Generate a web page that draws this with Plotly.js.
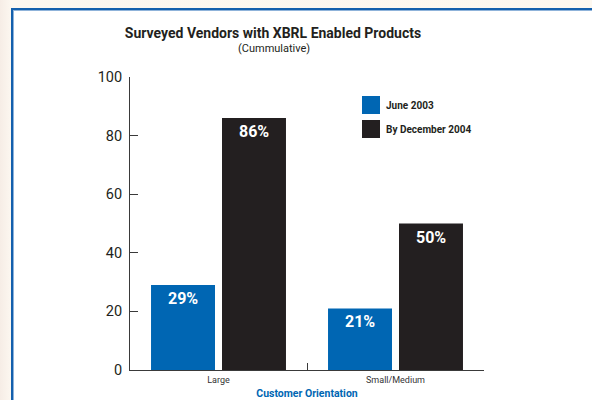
<!DOCTYPE html>
<html>
<head>
<meta charset="utf-8">
<script src="https://cdn.plot.ly/plotly-3.0.1.min.js"></script>
<style>
  html, body { margin:0; padding:0; width:592px; height:400px; overflow:hidden;
    background: linear-gradient(90deg, #f6ede6 0px, #fcf7f0 11px, #fdf8f0 100%); }
  #frame { position:absolute; left:11px; top:8px; width:581px; height:392px; background:#ffffff;
    border-left:2px solid #1460ad; border-top:2px solid #1460ad; box-sizing:border-box;
    box-shadow: inset 1px 1px 0 #8fb3da; }
  #chart { position:absolute; left:0; top:0; width:592px; height:400px; }
</style>
</head>
<body>
<div id="frame"></div>
<div id="chart"></div>
<script>
const categories = ["Large", "Small/Medium"];
const seriesNames = ["June 2003", "By December 2004"];
const june2003 = [29, 21];
const dec2004 = [86, 50];
const yTicks = [0, 20, 40, 60, 80, 100];

const colors = ["#0066b3", "#231f20"];
const FONT = 'Roboto, "Liberation Sans", Arial, sans-serif';
const STRETCH = "condensed";

const traces = [june2003, dec2004].map((vals, i) => ({
  type: "bar",
  name: seriesNames[i],
  x: categories,
  y: vals,
  marker: { color: colors[i], line: { width: 0 } },
  showlegend: false,
  hoverinfo: "skip"
}));

const annotations = [];
[june2003, dec2004].forEach((vals, i) => {
  vals.forEach((v, j) => {
    annotations.push({
      x: categories[j], y: v, xref: "x", yref: "y",
      text: v + "%", showarrow: false,
      xshift: i === 0 ? -35.5 : 35.5, yshift: -13.5, yanchor: "middle",
      font: { family: FONT, size: 16, color: "#ffffff", weight: "bold", stretch: STRETCH }
    });
  });
});

// subtitle
annotations.push({
  xref: "paper", yref: "paper", x: (274 - 130) / 354, y: (370 - 49) / 293,
  text: "(Cummulative)", showarrow: false, xanchor: "center", yanchor: "middle",
  font: { family: FONT, size: 11, color: "#231f20", stretch: STRETCH }
});

// legend (manual)
const shapes = [];
seriesNames.forEach((name, i) => {
  const top = 96 + i * 24;
  shapes.push({
    type: "rect", xref: "paper", yref: "paper",
    x0: (362 - 130) / 354, x1: (380 - 130) / 354,
    y0: (370 - top - 18) / 293, y1: (370 - top) / 293,
    fillcolor: colors[i], line: { width: 0 }
  });
  annotations.push({
    xref: "paper", yref: "paper", x: (384 - 130) / 354, y: (370 - top - 9) / 293,
    text: name, showarrow: false, xanchor: "left", yanchor: "middle",
    font: { family: FONT, size: 10, color: "#231f20", weight: "bold", stretch: STRETCH }
  });
});

const layout = {
  width: 592, height: 400,
  margin: { l: 130, r: 108, t: 77, b: 30 },
  paper_bgcolor: "rgba(0,0,0,0)",
  plot_bgcolor: "rgba(0,0,0,0)",
  font: { family: FONT, color: "#231f20" },
  title: {
    text: "Surveyed Vendors with XBRL Enabled Products",
    font: { family: FONT, size: 14, color: "#231f20", weight: "bold", stretch: STRETCH },
    x: 273 / 592, xref: "container", xanchor: "center",
    y: 1 - 33 / 400, yref: "container", yanchor: "middle"
  },
  barmode: "group",
  bargap: 0.198,
  bargroupgap: 0.0986,
  xaxis: {
    type: "category",
    range: [-0.5, 1.5],
    showline: true, linecolor: "#3a3a3a", linewidth: 1,
    ticks: "inside", tickson: "boundaries", ticklen: 7, tickcolor: "#3a3a3a", tickwidth: 1,
    tickfont: { family: FONT, size: 9, color: "#333333", stretch: STRETCH },
    ticklabelstandoff: 1,
    showgrid: false, zeroline: false,
    title: { text: "Customer Orientation", standoff: 6,
      font: { family: FONT, size: 10.5, color: "#0066b3", weight: "bold", stretch: STRETCH } },
    automargin: false, fixedrange: true
  },
  yaxis: {
    range: [0, 100],
    tickvals: yTicks,
    showline: true, linecolor: "#3a3a3a", linewidth: 1,
    ticks: "inside", ticklen: 8, tickcolor: "#3a3a3a", tickwidth: 1,
    tickfont: { family: FONT, size: 14.5, color: "#231f20", stretch: STRETCH },
    ticklabelstandoff: 4,
    showgrid: false, zeroline: false,
    automargin: false, fixedrange: true
  },
  annotations: annotations,
  shapes: shapes
};

Plotly.newPlot("chart", traces, layout, { displayModeBar: false, staticPlot: true });
</script>
</body>
</html>
